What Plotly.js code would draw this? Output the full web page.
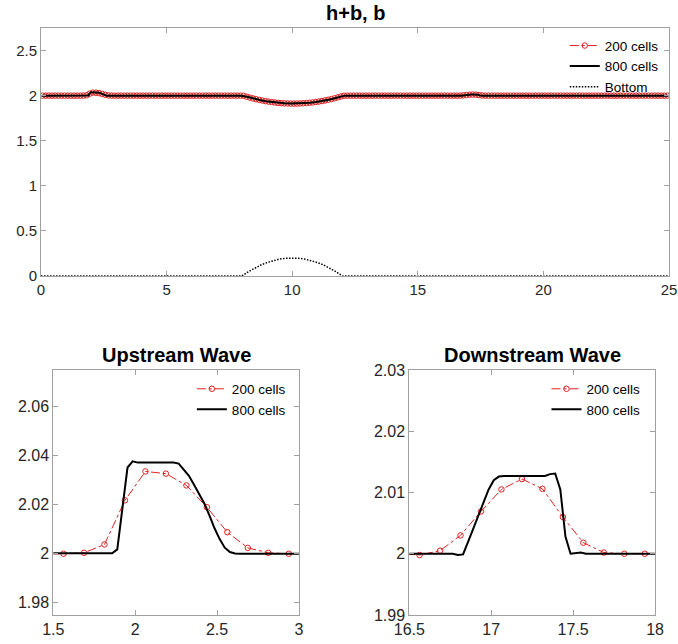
<!DOCTYPE html>
<html>
<head>
<meta charset="utf-8">
<script src="https://cdn.plot.ly/plotly-3.0.1.min.js"></script>
<style>html,body{margin:0;padding:0;background:#fff}#plot{width:678px;height:644px}</style>
</head>
<body>
<div id="plot"></div>
<script>
// ---- data ----
const nCells200 = 200;
const domainLength = 25;
// h+b, 200 cells (cell-centred values, i = 0..199)
const y200 = [
  2,2,2,2,2,2,2,2,2,2,
  2,2,
  2.0000,2.0004,2.0038,2.0218,2.0336,2.0327,2.0279,2.0190,2.0088,2.0024,2.0004,2.0000,
  2,2,2,2,2,2,2,2,2,2,
  2,2,2,2,2,2,2,2,2,2,
  2,2,2,2,2,2,2,2,2,2,
  2,2,2,2,2,2,2,2,2,
  2.0000,1.9990,1.9883,1.9784,1.9692,1.9607,1.9529,1.9457,1.9392,1.9335,
  1.9284,1.9240,1.9203,1.9172,1.9149,1.9132,1.9123,1.9120,1.9124,1.9135,
  1.9153,1.9178,1.9210,1.9248,1.9293,1.9345,1.9404,1.9470,1.9543,1.9623,
  1.9710,1.9803,1.9904,1.9990,
  2,2,2,2,2,2,2,2,2,2,
  2,2,2,2,2,2,2,2,2,2,
  2,2,2,2,2,2,2,2,2,2,
  2,2,2,2,2,
  1.9998,2.0005,2.0030,2.0069,2.0105,2.0122,2.0106,2.0060,2.0018,2.0002,2.0000,2.0000,
  2,2,2,2,2,2,2,2,2,2,
  2,2,2,2,2,2,2,2,2,2,
  2,2,2,2,2,2,2,2,2,2,
  2,2,2,2,2,2,2,2,2,2,
  2,2,2,2,2,2,2,2,2,2,
  2,2,2,2,2,2
];
const x200 = y200.map((_, i) => (i + 0.5) * domainLength / nCells200);

// h+b, 800 cells
const x800 = [
  0.015625,
  1.828125,1.859375,1.890625,1.921875,1.953125,1.984375,2.015625,2.046875,2.078125,2.109375,
  2.140625,2.171875,2.203125,2.234375,2.265625,2.296875,2.328125,2.359375,2.390625,2.421875,
  2.453125,2.484375,2.515625,2.546875,2.578125,2.609375,2.640625,
  7.953125,8.203125,8.453125,8.703125,8.953125,9.203125,9.453125,9.703125,9.953125,
  10.203125,10.453125,10.703125,10.953125,11.203125,11.453125,11.703125,11.953125,12.078125,
  16.765625,16.796875,16.828125,16.859375,16.890625,16.921875,16.953125,16.984375,17.015625,
  17.046875,17.078125,17.109375,17.140625,17.171875,17.203125,17.234375,17.265625,17.296875,
  17.328125,17.359375,17.390625,17.421875,17.453125,17.484375,17.515625,17.546875,17.578125,
  24.984375
];
const y800 = [
  2.0000,
  2.0000,2.0002,2.0018,2.0190,2.0352,2.0377,2.0372,2.0372,2.0372,2.0372,
  2.0372,2.0372,2.0373,2.0372,2.0368,2.0345,2.0318,2.0282,2.0243,2.0205,
  2.0157,2.0104,2.0060,2.0025,2.0007,2.0001,2.0000,
  2.0000,1.9875,1.9680,1.9520,1.9385,1.9280,1.9200,1.9147,1.9122,
  1.9125,1.9156,1.9215,1.9299,1.9411,1.9552,1.9721,1.9915,2.0000,
  2.0000,1.9998,1.9999,2.0020,2.0041,2.0062,2.0084,2.0105,2.0120,
  2.0126,2.0127,2.0127,2.0127,2.0127,2.0127,2.0127,2.0127,2.0127,
  2.0127,2.0130,2.0131,2.0105,2.0028,2.0000,2.0001,2.0002,2.0000,
  2.0000
];

// bottom profile b
const xBottom = [0, 8, 8.25, 8.5, 8.75, 9, 9.25, 9.5, 9.75, 10, 10.25, 10.5, 10.75, 11, 11.25, 11.5, 11.75, 12, 25];
const yBottom = [0, 0, 0.047, 0.088, 0.122, 0.15, 0.172, 0.188, 0.197, 0.2, 0.197, 0.188, 0.172, 0.15, 0.122, 0.088, 0.047, 0, 0];

const names = ['200 cells', '800 cells', 'Bottom'];
const titles = ['h+b, b', 'Upstream Wave', 'Downstream Wave'];

// ---- styling ----
const RED = 'rgb(226,32,32)';
const FONT = 'Liberation Sans, Arial, sans-serif';
const redTrace = (xa, ya, lg) => ({
  x: x200, y: y200, xaxis: xa, yaxis: ya, legend: lg,
  type: 'scatter', mode: 'lines+markers', name: names[0],
  line: {color: RED, width: 1, dash: 'dashdot'},
  marker: {symbol: 'circle-open', size: 5.5, color: RED, line: {width: 1, color: RED}},
  hoverinfo: 'skip'
});
const blackTrace = (xa, ya, lg) => ({
  x: x800, y: y800, xaxis: xa, yaxis: ya, legend: lg,
  type: 'scatter', mode: 'lines', name: names[1],
  line: {color: '#000', width: 2}, hoverinfo: 'skip'
});

const traces = [
  redTrace('x', 'y', 'legend'),
  blackTrace('x', 'y', 'legend'),
  {x: xBottom, y: yBottom, xaxis: 'x', yaxis: 'y', legend: 'legend', type: 'scatter', mode: 'lines',
   name: names[2], line: {color: '#000', width: 1.5, dash: '1.5px,1.5px'}, hoverinfo: 'skip', cliponaxis: false},
  redTrace('x2', 'y2', 'legend2'),
  blackTrace('x2', 'y2', 'legend2'),
  redTrace('x3', 'y3', 'legend3'),
  blackTrace('x3', 'y3', 'legend3')
];

const AX = '#a0a0a0';
const baseAxis = (size) => ({
  showline: true, linecolor: AX, linewidth: 1, mirror: 'ticks',
  ticks: 'inside', ticklen: 5, tickcolor: AX, tickwidth: 1,
  showgrid: false, zeroline: false, automargin: false,
  tickfont: {family: FONT, size: size, color: '#262626'}
});
const legendStyle = (x, y) => ({
  x: x, y: y, xanchor: 'left', yanchor: 'top', bgcolor: 'rgba(0,0,0,0)', borderwidth: 0,
  font: {family: FONT, size: 13.5, color: '#000'},
  itemwidth: 30, tracegroupgap: 0
});
const titleFont = (s) => ({family: FONT, size: s, color: '#000', weight: 'bold'});

const layout = {
  width: 678, height: 644,
  margin: {l: 0, r: 0, t: 0, b: 0},
  paper_bgcolor: '#fff', plot_bgcolor: '#fff',
  showlegend: true,
  xaxis: Object.assign(baseAxis(15), {domain: [0.0605, 0.9867], range: [0, 25], tick0: 0, dtick: 5, anchor: 'y'}),
  yaxis: Object.assign(baseAxis(15), {domain: [0.5714, 0.9565], range: [0, 2.75], tick0: 0, dtick: 0.5, anchor: 'x'}),
  xaxis2: Object.assign(baseAxis(16), {domain: [0.0786, 0.441], range: [1.5, 3], tick0: 1.5, dtick: 0.5, anchor: 'y2'}),
  yaxis2: Object.assign(baseAxis(16), {domain: [0.045, 0.4255], range: [1.975, 2.075], tick0: 2, dtick: 0.02, anchor: 'x2'}),
  xaxis3: Object.assign(baseAxis(16), {domain: [0.6037, 0.9661], range: [16.5, 18], tick0: 16.5, dtick: 0.5, anchor: 'y3'}),
  yaxis3: Object.assign(baseAxis(16), {domain: [0.045, 0.4255], range: [1.99, 2.03], tick0: 2, dtick: 0.01, anchor: 'x3'}),
  legend: legendStyle(0.833, 0.953),
  legend2: legendStyle(0.283, 0.420),
  legend3: legendStyle(0.806, 0.420),
  annotations: [
    {text: titles[0], xref: 'paper', yref: 'paper', x: 355 / 678, y: 1 - 13 / 644, xanchor: 'center', yanchor: 'middle', showarrow: false, font: titleFont(20)},
    {text: titles[1], xref: 'paper', yref: 'paper', x: 176.5 / 678, y: 1 - 355 / 644, xanchor: 'center', yanchor: 'middle', showarrow: false, font: titleFont(20)},
    {text: titles[2], xref: 'paper', yref: 'paper', x: 532.5 / 678, y: 1 - 355 / 644, xanchor: 'center', yanchor: 'middle', showarrow: false, font: titleFont(20)}
  ]
};

Plotly.newPlot('plot', traces, layout, {displayModeBar: false, staticPlot: true});
</script>
</body>
</html>
